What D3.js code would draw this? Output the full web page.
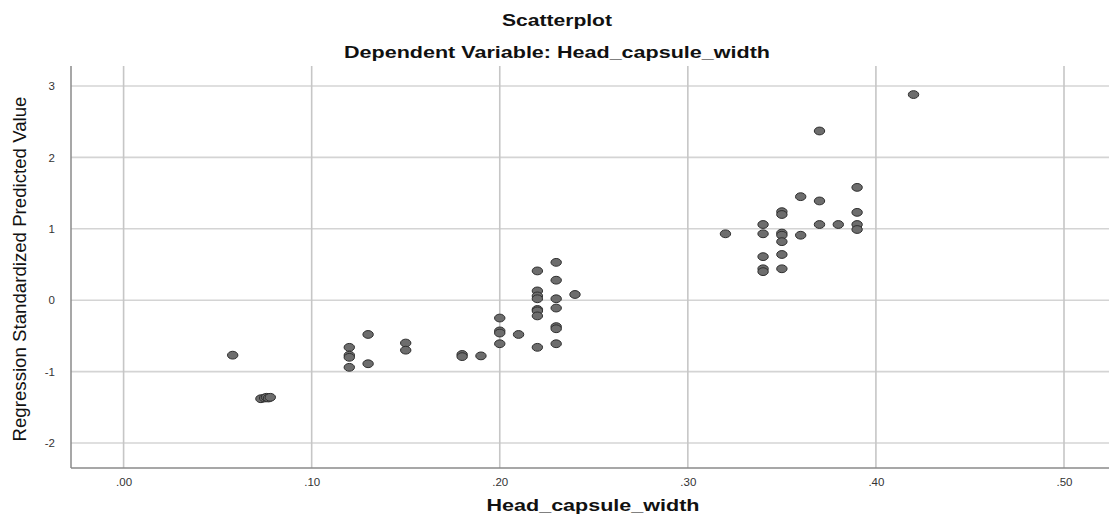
<!DOCTYPE html>
<html>
<head>
<meta charset="utf-8">
<script src="https://cdn.jsdelivr.net/npm/d3@7"></script>
<style>
  html, body { margin: 0; padding: 0; background: #fff; }
  svg { display: block; }
  text { font-family: "Liberation Sans", Arial, sans-serif; }
</style>
</head>
<body>
<svg id="chart" width="1109" height="516"></svg>
<script>
// ---- data ----
const headCapsuleWidth = [
  0.058,
  0.073, 0.075, 0.076, 0.077, 0.078,
  0.12, 0.12, 0.12, 0.12,
  0.13, 0.13,
  0.15, 0.15,
  0.18, 0.18,
  0.19,
  0.20, 0.20, 0.20, 0.20,
  0.21,
  0.22, 0.22, 0.22, 0.22, 0.22, 0.22, 0.22, 0.22,
  0.23, 0.23, 0.23, 0.23, 0.23, 0.23, 0.23,
  0.24,
  0.32,
  0.34, 0.34, 0.34, 0.34, 0.34,
  0.35, 0.35, 0.35, 0.35, 0.35, 0.35, 0.35,
  0.36, 0.36,
  0.37, 0.37, 0.37,
  0.38,
  0.39, 0.39, 0.39, 0.39,
  0.42
];
const standardizedPredicted = [
  -0.77,
  -1.38, -1.37, -1.36, -1.37, -1.36,
  -0.66, -0.77, -0.80, -0.94,
  -0.48, -0.89,
  -0.60, -0.70,
  -0.76, -0.79,
  -0.78,
  -0.25, -0.43, -0.46, -0.61,
  -0.48,
  0.41, 0.13, 0.06, 0.02, -0.13, -0.15, -0.22, -0.66,
  0.53, 0.28, 0.02, -0.11, -0.37, -0.40, -0.61,
  0.08,
  0.93,
  1.06, 0.93, 0.61, 0.44, 0.40,
  1.24, 1.20, 0.94, 0.91, 0.82, 0.64, 0.44,
  1.45, 0.91,
  2.37, 1.39, 1.06,
  1.06,
  1.58, 1.23, 1.06, 0.99,
  2.88
];
const xTicks = [0, 0.1, 0.2, 0.3, 0.4, 0.5];
const xTickLabels = [".00", ".10", ".20", ".30", ".40", ".50"];
const yTicks = [-2, -1, 0, 1, 2, 3];
const yTickLabels = ["-2", "-1", "0", "1", "2", "3"];
const titleText = "Scatterplot";
const subtitleText = "Dependent Variable: Head_capsule_width";
const xTitle = "Head_capsule_width";
const yTitle = "Regression Standardized Predicted Value";

// ---- layout ----
const svg = d3.select("#chart");
const plotLeft = 71, plotRight = 1109, plotTop = 66, plotBottom = 468;

const x = d3.scaleLinear().domain([0, 0.5]).range([123.6, 1064]);
const y = d3.scaleLinear().domain([-2, 3]).range([443, 86]);

// gridlines
svg.append("g")
  .selectAll("line").data(yTicks).join("line")
  .attr("x1", plotLeft).attr("x2", plotRight)
  .attr("y1", d => y(d)).attr("y2", d => y(d))
  .attr("stroke", "#d4d4d4").attr("stroke-width", 1.6);

svg.append("g")
  .selectAll("line").data(xTicks).join("line")
  .attr("x1", d => x(d)).attr("x2", d => x(d))
  .attr("y1", plotTop).attr("y2", plotBottom)
  .attr("stroke", "#c6c6c6").attr("stroke-width", 1.6);

// axes
const xAxis = d3.axisBottom(x).tickValues(xTicks).tickSize(0).tickPadding(10)
  .tickFormat((d, i) => xTickLabels[i]);
const gx = svg.append("g").attr("transform", `translate(0,${plotBottom})`).call(xAxis);
gx.select(".domain").remove();
gx.selectAll("text").attr("font-size", 11.5).attr("fill", "#333")
  .attr("font-family", "'Liberation Sans', Arial, sans-serif");

const yAxis = d3.axisLeft(y).tickValues(yTicks).tickSize(0).tickPadding(16)
  .tickFormat((d, i) => yTickLabels[i]);
const gy = svg.append("g").attr("transform", `translate(${plotLeft},0)`).call(yAxis);
gy.select(".domain").remove();
gy.selectAll("text").attr("font-size", 11.5).attr("fill", "#333")
  .attr("font-family", "'Liberation Sans', Arial, sans-serif");

svg.append("line").attr("x1", plotLeft).attr("x2", plotLeft).attr("y1", plotTop).attr("y2", plotBottom)
  .attr("stroke", "#8a8a8a").attr("stroke-width", 1.5);
svg.append("line").attr("x1", plotLeft).attr("x2", plotRight).attr("y1", plotBottom).attr("y2", plotBottom)
  .attr("stroke", "#8a8a8a").attr("stroke-width", 1.5);

// points
const pts = headCapsuleWidth.map((v, i) => ({ x: v, y: standardizedPredicted[i] }));
svg.append("g")
  .selectAll("ellipse").data(pts).join("ellipse")
  .attr("cx", d => x(d.x)).attr("cy", d => y(d.y))
  .attr("rx", 5.2).attr("ry", 3.9)
  .attr("fill", "#6d6d6d").attr("stroke", "#2e2e2e").attr("stroke-width", 1);

// titles
svg.append("text").attr("x", 557).attr("y", 26).attr("text-anchor", "middle")
  .attr("font-size", 16).attr("font-weight", "bold").attr("fill", "#111")
  .attr("textLength", 110).attr("lengthAdjust", "spacingAndGlyphs")
  .text(titleText);
svg.append("text").attr("x", 557).attr("y", 58).attr("text-anchor", "middle")
  .attr("font-size", 16).attr("font-weight", "bold").attr("fill", "#111")
  .attr("textLength", 426).attr("lengthAdjust", "spacingAndGlyphs")
  .text(subtitleText);
svg.append("text").attr("x", 593).attr("y", 511).attr("text-anchor", "middle")
  .attr("font-size", 17).attr("font-weight", "bold").attr("fill", "#111")
  .attr("textLength", 213).attr("lengthAdjust", "spacingAndGlyphs")
  .text(xTitle);
svg.append("text").attr("transform", "translate(26,269) rotate(-90)")
  .attr("text-anchor", "middle")
  .attr("font-size", 18).attr("fill", "#111")
  .attr("textLength", 345).attr("lengthAdjust", "spacingAndGlyphs")
  .text(yTitle);
</script>
</body>
</html>
